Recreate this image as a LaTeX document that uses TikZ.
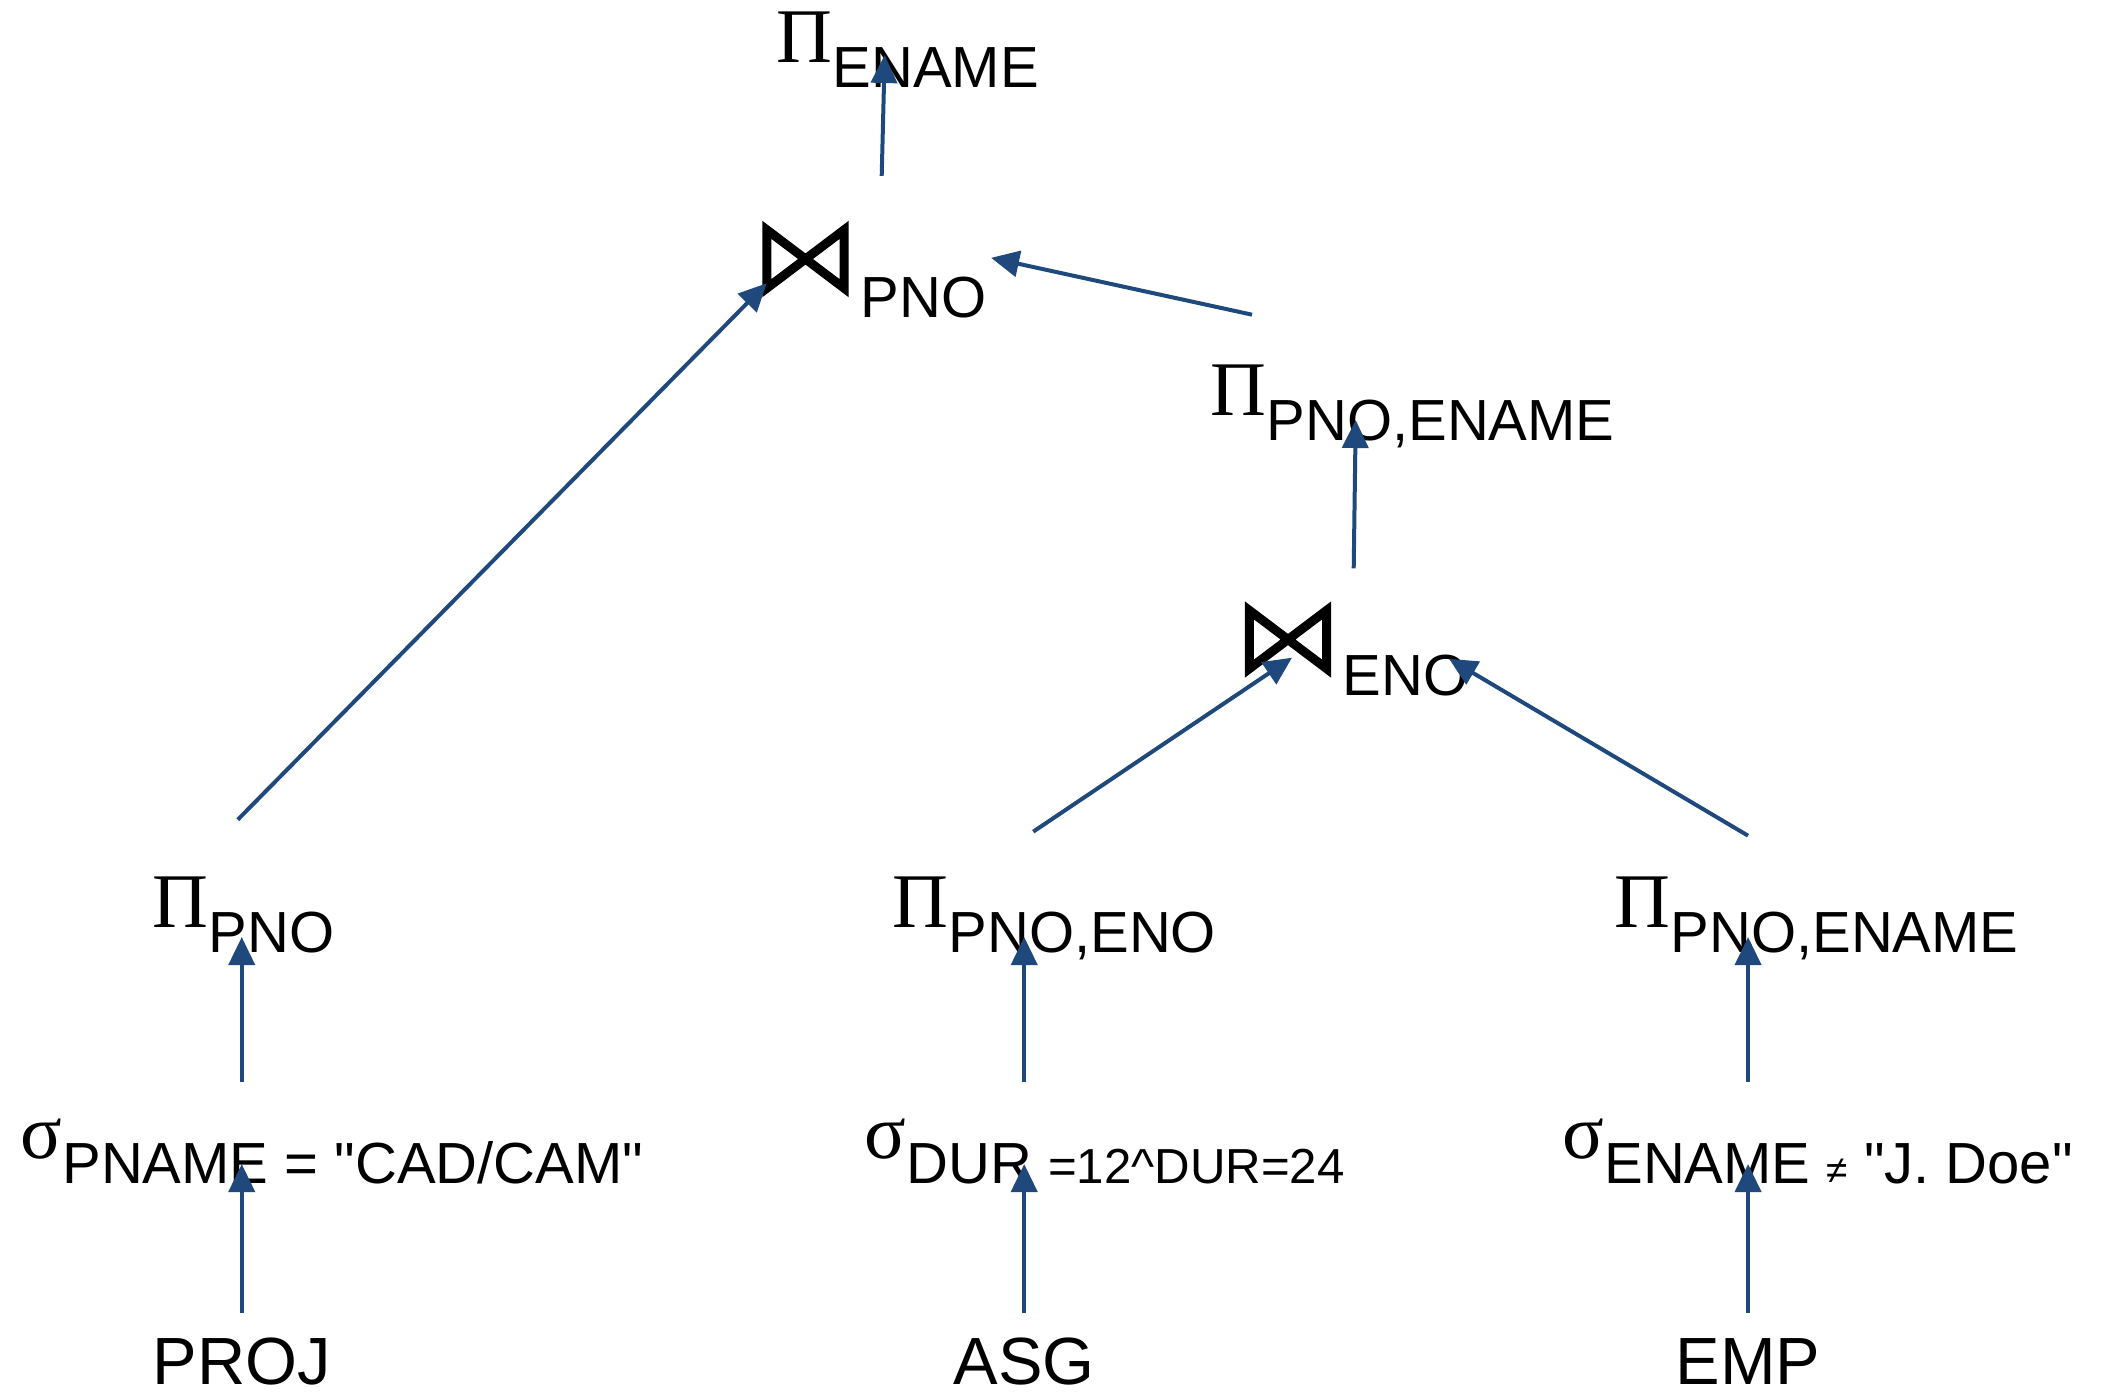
\documentclass[tikz,border=0pt]{standalone}
\usepackage{fontspec}
\setmainfont{Liberation Sans}[Ligatures=TeXOff]
\newfontfamily\opfont{Liberation Serif}
\usepackage{tikz}
\usetikzlibrary{arrows.meta,calc}
\definecolor{QTBlue}{HTML}{1F497D}

% operator symbol with its lowered attribute list
\newcommand{\op}[2]{{\opfont\fontsize{22}{24}\selectfont #1}\raisebox{-2.5mm}{#2}}

\begin{document}
\begin{tikzpicture}[
    rel/.style={anchor=base west, inner sep=0pt, font=\fontsize{16.5}{19}\selectfont},
    leaf/.style={rel, font=\fontsize{19}{22}\selectfont},
    joinop/.style={inner sep=0pt, minimum width=7.6mm, minimum height=5.7mm},
    bowtie/.style={line width=0.9mm, line join=miter},
    flow/.style={-{Triangle[length=2.8mm,width=2.6mm]}, draw=QTBlue, line width=0.4mm}
  ]
  \useasboundingbox (0,0) rectangle (21.04,-13.93);

  % base relations
  \node[leaf] (proj) at (1.52,-13.84) {PROJ};
  \node[leaf] (asg) at (9.53,-13.84) {ASG};
  \node[leaf] (emp) at (16.75,-13.84) {EMP};

  % selections
  \node[rel] (sp) at (0.20,-11.58) {\op{σ}{PNAME = "CAD/CAM"}};
  \node[rel] (sa) at (8.64,-11.58) {\op{σ}{DUR {\fontsize{14}{16}\selectfont =12\textasciicircum DUR=24}}};
  \node[rel] (se) at (15.62,-11.58) {\op{σ}{ENAME {\fontsize{11}{13}\selectfont ≠} "J. Doe"}};

  % projections
  \node[rel] (pp) at (1.52,-9.27) {\op{Π}{PNO}};
  \node[rel] (pa) at (8.92,-9.27) {\op{Π}{PNO,ENO}};
  \node[rel] (pr) at (16.14,-9.27) {\op{Π}{PNO,ENAME}};

  % joins
  \node[joinop] (ej) at (12.88,-6.395) {};
  \node[rel] (ejl) at (13.42,-6.95) {ENO};
  \node[rel] (pm) at (12.10,-4.15) {\op{Π}{PNO,ENAME}};
  \node[joinop] (pj) at (8.055,-2.59) {};
  \node[rel] (pjl) at (8.60,-3.17) {PNO};
  \node[rel] (pe) at (7.76,-0.62) {\op{Π}{ENAME}};

  \foreach \j in {pj,ej}
    \draw[bowtie] (\j.north west) -- (\j.south east) -- (\j.north east) -- (\j.south west) -- cycle;

  \foreach \l/\s/\p in {proj/sp/pp, asg/sa/pa, emp/se/pr}{
    \draw[flow] ($(\l.north)+(0,0.24)$) -- ($(\l.north |- \s.base)+(0,-0.06)$);
    \draw[flow] ($(\l.north |- \s.north)+(0,0.36)$) -- ($(\l.north |- \p.base)+(0,-0.1)$);
  }

  \draw[flow] ($(proj.north |- pp.north)+(-0.04,0.56)$) -- ($(pj.south west)+(0,0.05)$);
  \draw[flow] ($(asg.north |- pa.north)+(0.09,0.44)$) -- ($(ej.south)+(0.04,0.11)$);
  \draw[flow] ($(emp.north |- pr.north)+(0,0.40)$) -- ($(ejl.north east)+(-0.2,-0.05)$);
  \draw[flow] ($(ej.north east)+(0.27,0.42)$) -- ($(ej.north east |- pm.base)+(0.29,-0.05)$);
  \draw[flow] ($(pm.north west)+(0.42,0.49)$) -- ($(pjl.north east)+(0.04,0.18)$);
  \draw[flow] ($(pj.north east)+(0.375,0.54)$) -- ($(pj.north east |- pe.base)+(0.405,0.07)$);
\end{tikzpicture}
\end{document}
